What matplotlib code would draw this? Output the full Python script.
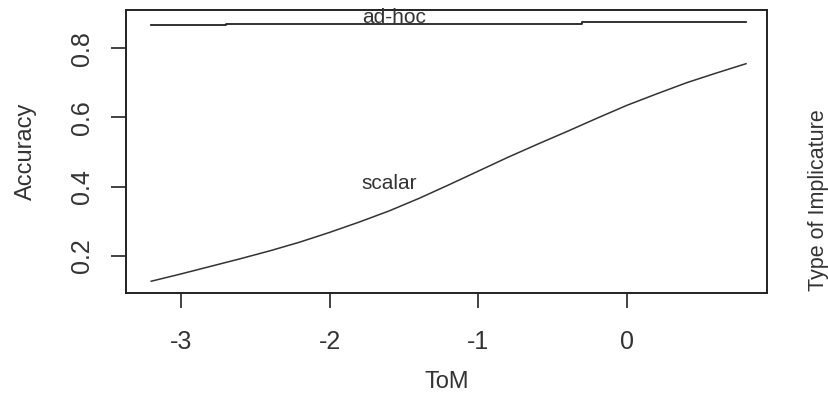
import matplotlib.pyplot as plt

plt.rcParams['font.family'] = ['Liberation Sans', 'DejaVu Sans']

tom = [-3.2, -3.0, -2.8, -2.6, -2.4, -2.2, -2.0, -1.8, -1.6, -1.4, -1.2,
       -1.0, -0.8, -0.6, -0.4, -0.2, 0.0, 0.2, 0.4, 0.6, 0.8]
scalar_acc = [0.127, 0.148, 0.170, 0.192, 0.215, 0.240, 0.268, 0.298, 0.330, 0.366, 0.405,
              0.445, 0.485, 0.523, 0.560, 0.598, 0.635, 0.668, 0.700, 0.728, 0.755]
adhoc_acc = [0.866, 0.866, 0.866, 0.869, 0.869, 0.869, 0.869, 0.869, 0.869, 0.869, 0.869,
             0.869, 0.869, 0.869, 0.869, 0.876, 0.876, 0.876, 0.876, 0.876, 0.876]

x_ticks = [-3, -2, -1, 0]
y_ticks = [0.2, 0.4, 0.6, 0.8]

fig = plt.figure(figsize=(8.29, 3.93), dpi=100)
ax = fig.add_axes([0.152, 0.2545, 0.773, 0.72])

ax.plot(tom, scalar_acc, color='#333333', linewidth=1.1)
ax.plot(tom, adhoc_acc, color='#222222', linewidth=1.3, drawstyle='steps-mid')

ax.text(-1.57, 0.889, 'ad-hoc', ha='center', va='center', fontsize=15, color='#333333')
ax.text(-1.6, 0.41, 'scalar', ha='center', va='center', fontsize=15, color='#333333')

ax.set_xlim(-3.37, 0.94)
ax.set_ylim(0.093, 0.91)
ax.set_xticks(x_ticks)
ax.set_xticklabels([str(v) for v in x_ticks])
ax.set_yticks(y_ticks)
ax.set_yticklabels([f'{v:.1f}' for v in y_ticks], rotation=90, va='center')
ax.tick_params(axis='both', direction='out', length=11, width=1.2, labelsize=18,
               colors='#222222', labelcolor='#333333')
ax.tick_params(axis='x', pad=16)
ax.tick_params(axis='y', pad=12)
for s in ax.spines.values():
    s.set_linewidth(1.4)
    s.set_color('#222222')

ax.set_xlabel('ToM', fontsize=17, color='#333333', labelpad=12)
ax.set_ylabel('Accuracy', fontsize=17, color='#333333', labelpad=24)

fig.text(0.987, 0.49, 'Type of Implicature', rotation=90, ha='center', va='center',
         fontsize=15.5, color='#333333')

plt.savefig('out.png', dpi=100)
